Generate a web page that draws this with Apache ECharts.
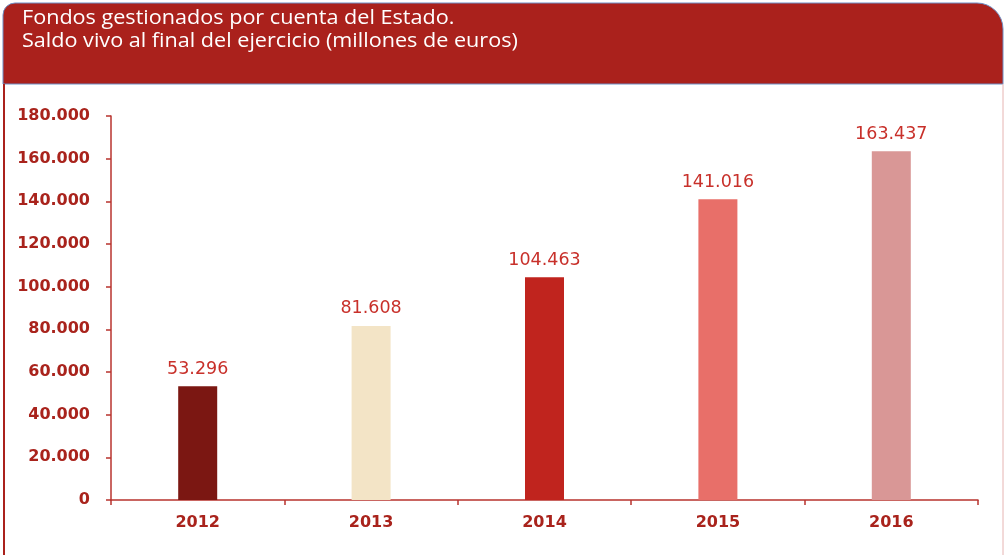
<!DOCTYPE html>
<html lang="es">
<head>
<meta charset="UTF-8">
<title>Fondos gestionados por cuenta del Estado</title>
<style>
  html, body { margin: 0; padding: 0; background: #fff; }
  #main { width: 1008px; height: 555px; }
</style>
</head>
<body>
<div id="main"></div>
<script src="https://cdn.jsdelivr.net/npm/echarts@6/dist/echarts.min.js"></script>
<script>
// datos (millones de euros)
const years = ['2012', '2013', '2014', '2015', '2016'];
const saldo = [53296, 81608, 104463, 141016, 163437];
const barColors = ['#7b1712', '#f3e4c6', '#c0241e', '#e86f69', '#d99796'];
const titleLines = ['Fondos gestionados por cuenta del Estado.',
                    'Saldo vivo al final del ejercicio (millones de euros)'];

const axisRed = '#b8332e';
const labelRed = '#a9231c';

function miles(v) {
  return String(v).replace(/\B(?=(\d{3})+(?!\d))/g, '.');
}

var myChart = echarts.init(document.getElementById('main'));
var option = {
  backgroundColor: '#fff',
  animation: false,
  graphic: [
    {
      type: 'rect',
      shape: { x: 3, y: 3, width: 1000, height: 81, r: [12, 26, 0, 0] },
      style: { fill: '#aa211c', stroke: '#6f8fc4', lineWidth: 1 }
    },
    {
      type: 'line',
      shape: { x1: 4, y1: 84, x2: 4, y2: 555 },
      style: { stroke: '#aa211c', lineWidth: 2 }
    },
    {
      type: 'line',
      shape: { x1: 1003, y1: 84, x2: 1003, y2: 555 },
      style: { stroke: '#e6b4b2', lineWidth: 1 }
    },
    {
      // titulo, algo ensanchado como en el original
      type: 'text',
      x: 22,
      y: 7,
      scaleX: 1.08,
      style: {
        text: titleLines.join('\n'),
        fill: '#fff',
        font: '20px "Open Sans"',
        lineHeight: 23
      }
    }
  ],
  grid: { left: 111, right: 30, top: 116, bottom: 55 },
  xAxis: {
    type: 'category',
    data: years,
    axisLine: { lineStyle: { color: axisRed, width: 1.5 } },
    axisTick: { show: true, length: 5, lineStyle: { color: axisRed, width: 1.5 } },
    axisLabel: {
      color: labelRed, fontFamily: 'DejaVu Sans', fontWeight: 'bold',
      fontSize: 16, margin: 15
    }
  },
  yAxis: {
    type: 'value',
    min: 0,
    max: 180000,
    interval: 20000,
    splitLine: { show: false },
    axisLine: { show: true, lineStyle: { color: axisRed, width: 1.5 } },
    axisTick: { show: true, length: 5, lineStyle: { color: axisRed, width: 1.5 } },
    axisLabel: {
      color: labelRed, fontFamily: 'DejaVu Sans', fontWeight: 'bold',
      fontSize: 16, margin: 21,
      formatter: miles
    }
  },
  series: [{
    type: 'bar',
    barWidth: 39,
    data: saldo.map((v, i) => ({ value: v, itemStyle: { color: barColors[i] } })),
    label: {
      show: true,
      position: 'top',
      distance: 8,
      color: '#c8302a',
      fontFamily: 'DejaVu Sans',
      fontSize: 17.5,
      formatter: p => miles(p.value)
    }
  }]
};

myChart.setOption(option);
</script>
</body>
</html>
